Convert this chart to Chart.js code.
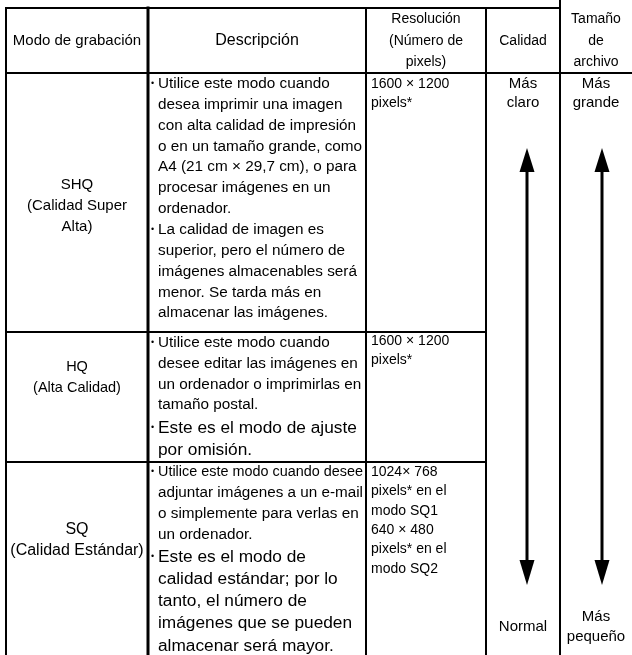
<!DOCTYPE html>
<html>
<head>
<meta charset="utf-8">
<script src="https://cdn.jsdelivr.net/npm/chart.js@4.4.1/dist/chart.umd.min.js"></script>
<style>
  html, body { margin: 0; padding: 0; background: #fff; }
  canvas { display: block; }
</style>
</head>
<body>
<canvas id="myChart" width="632" height="655"></canvas>
<script>
// table content
const headers = [
  ["Modo de grabación"],
  ["Descripción"],
  ["Resolución", "(Número de", "pixels)"],
  ["Calidad"],
  ["Tamaño", "de", "archivo"]
];
const modes = [
  ["SHQ", "(Calidad Super", "Alta)"],
  ["HQ", "(Alta Calidad)"],
  ["SQ", "(Calidad Estándar)"]
];
const descriptions = [
  [
    ["Utilice este modo cuando", "desea imprimir una imagen", "con alta calidad de impresión",
     "o en un tamaño grande, como", "A4 (21 cm × 29,7 cm), o para", "procesar imágenes en un", "ordenador."],
    ["La calidad de imagen es", "superior, pero el número de", "imágenes almacenables será",
     "menor. Se tarda más en", "almacenar las imágenes."]
  ],
  [
    ["Utilice este modo cuando", "desee editar las imágenes en", "un ordenador o imprimirlas en", "tamaño postal."],
    ["Este es el modo de ajuste", "por omisión."]
  ],
  [
    ["Utilice este modo cuando desee", "adjuntar imágenes a un e-mail", "o simplemente para verlas en", "un ordenador."],
    ["Este es el modo de", "calidad estándar; por lo", "tanto, el número de",
     "imágenes que se pueden", "almacenar será mayor."]
  ]
];
const resolutions = [
  ["1600 × 1200", "pixels*"],
  ["1600 × 1200", "pixels*"],
  ["1024× 768", "pixels* en el", "modo SQ1", "640 × 480", "pixels* en el", "modo SQ2"]
];
const qualityLabels = [["Más", "claro"], ["Normal"]];
const sizeLabels = [["Más", "grande"], ["Más", "pequeño"]];

// layout (table units = pixels of the reference)
const colEdges = [6, 148, 366, 486, 560, 632];
const rowEdges = [8, 73, 332, 462, 655];
const headerCenter = 41, headerLine = 21.5;
const headerSize = [15, 16, 14, 14, 14];
const modeCenters = [206, 377.5, 540];
const modeSize = [15, 14.5, 16];
const bulletStarts = [[84, 230], [343, 428], [472, 557]];
const bulletLine = [[20.8, 20.8], [20.7, 22], [21, 22.2]];
const bulletSize = [[15.3, 15.3], [15.3, 17.3], [15.3, 17.3]];
const resStarts = [84, 341, 472];
const arrowTop = [148, 172];
const arrowBottom = [585, 560];
const arrowX = [527, 602];
const FONT = '"Liberation Sans", Arial, sans-serif';

// border segments, null breaks the line
var thin = [], thick = [];
function seg(arr, x1, y1, x2, y2) {
  arr.push({x: x1, y: y1}, {x: x2, y: y2}, {x: null, y: null});
}
seg(thin, colEdges[0], rowEdges[0], colEdges[4], rowEdges[0]);
seg(thin, colEdges[0], rowEdges[1], colEdges[5], rowEdges[1]);
seg(thin, colEdges[0], rowEdges[2], colEdges[3], rowEdges[2]);
seg(thin, colEdges[0], rowEdges[3], colEdges[3], rowEdges[3]);
seg(thin, colEdges[0], rowEdges[0], colEdges[0], rowEdges[4]);
seg(thin, colEdges[2], rowEdges[0], colEdges[2], rowEdges[4]);
seg(thin, colEdges[3], rowEdges[0], colEdges[3], rowEdges[4]);
seg(thin, colEdges[4], 0, colEdges[4], rowEdges[4]);
seg(thick, colEdges[1], rowEdges[0], colEdges[1], rowEdges[4]);

var shafts = [];
arrowX.forEach(function(x){ seg(shafts, x, arrowTop[1] - 2, x, arrowBottom[1] + 2); });

var tablePlugin = {
  id: 'tableText',
  afterDatasetsDraw: function(chart) {
    var ctx = chart.ctx, sx = chart.scales.x, sy = chart.scales.y;
    var px = function(v){ return sx.getPixelForValue(v); };
    var py = function(v){ return sy.getPixelForValue(v); };
    ctx.save();
    ctx.fillStyle = '#000';
    ctx.textBaseline = 'middle';

    function centered(lines, cx, cy, lh, size) {
      ctx.font = size + 'px ' + FONT;
      ctx.textAlign = 'center';
      var top = cy - (lines.length - 1) * lh / 2;
      lines.forEach(function(t, i){ ctx.fillText(t, px(cx), py(top + i * lh)); });
    }

    // header
    headers.forEach(function(h, c){
      centered(h, (colEdges[c] + colEdges[c + 1]) / 2, headerCenter, headerLine, headerSize[c]);
    });
    // mode column
    modes.forEach(function(m, r){
      centered(m, (colEdges[0] + colEdges[1]) / 2, modeCenters[r], 20.8, modeSize[r]);
    });
    // descriptions
    descriptions.forEach(function(bullets, r){
      bullets.forEach(function(lines, b){
        var size = bulletSize[r][b];
        ctx.textAlign = 'left';
        ctx.font = '9px ' + FONT;
        ctx.fillText('•', px(colEdges[1] + 3), py(bulletStarts[r][b]));
        ctx.font = size + 'px ' + FONT;
        lines.forEach(function(t, i){
          ctx.fillText(t, px(colEdges[1] + 10), py(bulletStarts[r][b] + i * bulletLine[r][b]), colEdges[2] - colEdges[1] - 13);
        });
      });
    });
    // resolution
    ctx.font = '14px ' + FONT;
    ctx.textAlign = 'left';
    resolutions.forEach(function(lines, r){
      lines.forEach(function(t, i){ ctx.fillText(t, px(colEdges[2] + 5), py(resStarts[r] + i * 19.4)); });
    });
    // quality / size
    var qc = (colEdges[3] + colEdges[4]) / 2, sc = (colEdges[4] + colEdges[5]) / 2;
    centered(qualityLabels[0], qc, 93.5, 19.4, 15);
    centered(qualityLabels[1], qc, 627, 19.4, 15);
    centered(sizeLabels[0], sc, 93.5, 19.4, 15);
    centered(sizeLabels[1], sc, 627, 19.4, 15);

    // arrow heads
    arrowX.forEach(function(x){
      ctx.beginPath();
      ctx.moveTo(px(x), py(arrowTop[0]));
      ctx.lineTo(px(x - 7.5), py(arrowTop[1]));
      ctx.lineTo(px(x + 7.5), py(arrowTop[1]));
      ctx.closePath();
      ctx.fill();
      ctx.beginPath();
      ctx.moveTo(px(x), py(arrowBottom[0]));
      ctx.lineTo(px(x - 7.5), py(arrowBottom[1]));
      ctx.lineTo(px(x + 7.5), py(arrowBottom[1]));
      ctx.closePath();
      ctx.fill();
    });
    ctx.restore();
  }
};

var lineDs = function(data, w){
  return { data: data, showLine: true, borderColor: '#000', borderWidth: w,
           pointRadius: 0, spanGaps: false, borderCapStyle: 'square', fill: false };
};

new Chart("myChart", {
  type: 'scatter',
  data: { datasets: [lineDs(thin, 2), lineDs(thick, 3), lineDs(shafts, 3)] },
  options: {
    responsive: false,
    animation: false,
    events: [],
    layout: { padding: 0 },
    plugins: { legend: { display: false }, tooltip: { enabled: false } },
    scales: {
      x: { type: 'linear', display: false, min: 0, max: 632 },
      y: { type: 'linear', display: false, min: 0, max: 655, reverse: true }
    }
  },
  plugins: [tablePlugin]
});
</script>
</body>
</html>
